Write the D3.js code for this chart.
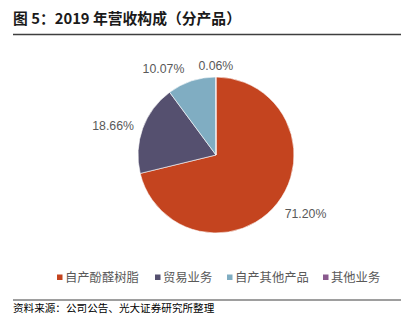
<!DOCTYPE html>
<html><head><meta charset="utf-8">
<script src="https://cdn.jsdelivr.net/npm/d3@7"></script>
<style>
html,body{margin:0;padding:0;background:#fff;}
svg{display:block;}
</style></head>
<body>
<svg id="chart" width="413" height="330"></svg>
<script>
const title = "图 5：2019 年营收构成（分产品）";
const source = "资料来源：公司公告、光大证券研究所整理";
const categories = ["自产酚醛树脂", "贸易业务", "自产其他产品", "其他业务"];
const values = [71.20, 18.66, 10.07, 0.06];
const valueLabels = ["71.20%", "18.66%", "10.07%", "0.06%"];
const colors = ["#C4441F", "#55506F", "#80ADC2", "#8A5A8E"];

const svg = d3.select("#chart");
const cjk = "'Noto Sans CJK SC', 'Liberation Sans', sans-serif";
const latin = "'Liberation Sans', Arial, sans-serif";

// Title
svg.append("text").attr("x", 13).attr("y", 24)
  .attr("font-family", cjk).attr("font-weight", "bold").attr("font-size", 14.8)
  .attr("fill", "#1a1a1a").text(title);
svg.append("line").attr("x1", 13).attr("x2", 401).attr("y1", 34.5).attr("y2", 34.5)
  .attr("stroke", "#3f3f3f").attr("stroke-width", 1.3);

// Pie
const cx = 216, cy = 155, R = 78;
const pie = d3.pie().sort(null).value(d => d)(values);
const arc = d3.arc().innerRadius(0).outerRadius(R);
const g = svg.append("g").attr("transform", `translate(${cx},${cy})`);
g.selectAll("path").data(pie).join("path")
  .attr("d", arc).attr("fill", (d, i) => colors[i])
  .attr("stroke", "#fff").attr("stroke-width", 0.6);

// Labels (radius per slice, with small angle nudges like Excel best-fit)
const labelRadius = [107, 107, 101, 89];
const angleNudge = [-5, -4, -13, 0];
pie.forEach((d, i) => {
  const a = (d.startAngle + d.endAngle) / 2 + angleNudge[i] * Math.PI / 180;
  const x = Math.sin(a) * labelRadius[i];
  const y = -Math.cos(a) * labelRadius[i];
  g.append("text").attr("x", x).attr("y", y).attr("dy", "0.35em")
    .attr("text-anchor", "middle")
    .attr("font-family", latin).attr("font-size", 12.3).attr("fill", "#595959")
    .text(valueLabels[i]);
});

// Legend
const legendX = [57, 155, 227, 323];
const lg = svg.append("g");
categories.forEach((c, i) => {
  lg.append("rect").attr("x", legendX[i]).attr("y", 274.5).attr("width", 5.5).attr("height", 5.5)
    .attr("fill", colors[i]);
  lg.append("text").attr("x", legendX[i] + 8).attr("y", 277.5).attr("dy", "0.35em")
    .attr("font-family", cjk).attr("font-size", 12.3).attr("fill", "#595959").text(c);
});

// Source
svg.append("line").attr("x1", 13).attr("x2", 401).attr("y1", 300).attr("y2", 300)
  .attr("stroke", "#3f3f3f").attr("stroke-width", 1.2);
svg.append("text").attr("x", 13).attr("y", 311.5)
  .attr("font-family", cjk).attr("font-size", 10.6).attr("fill", "#000").text(source);
</script>
</body></html>
